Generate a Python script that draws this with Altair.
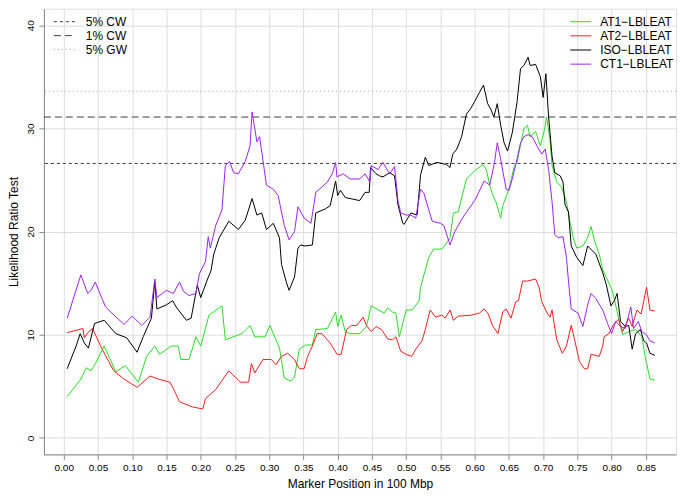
import altair as alt
import pandas as pd

# ---------------- data ----------------
series_names = ["AT1\u2212LBLEAT", "AT2\u2212LBLEAT", "ISO\u2212LBLEAT", "CT1\u2212LBLEAT"]
series_colors = ["#22E022", "#F01E1E", "#000000", "#A020F0"]

at1_x = [0.005, 0.025, 0.033, 0.040, 0.047, 0.059, 0.076, 0.090, 0.109, 0.121, 0.133, 0.140,
         0.157, 0.167, 0.171, 0.183, 0.193, 0.200, 0.212, 0.231, 0.236, 0.260, 0.272, 0.279,
         0.294, 0.301, 0.308, 0.315, 0.322, 0.332, 0.337, 0.344, 0.353, 0.363, 0.368, 0.385,
         0.397, 0.400, 0.405, 0.411, 0.418, 0.432, 0.442, 0.449, 0.459, 0.468, 0.473, 0.480,
         0.485, 0.490, 0.500, 0.509, 0.519, 0.521, 0.533, 0.540, 0.552, 0.557, 0.564, 0.569,
         0.576, 0.588, 0.600, 0.612, 0.617, 0.622, 0.626, 0.631, 0.638, 0.641, 0.650, 0.658,
         0.662, 0.667, 0.672, 0.677, 0.681, 0.689, 0.696, 0.702, 0.705, 0.710, 0.713, 0.720,
         0.727, 0.734, 0.739, 0.744, 0.749, 0.758, 0.765, 0.770, 0.775, 0.782, 0.787, 0.801,
         0.811, 0.816, 0.825, 0.835, 0.844, 0.849, 0.856, 0.863]
at1_y = [4.0, 5.7, 6.8, 6.5, 7.3, 8.9, 6.4, 7.0, 5.4, 7.9, 8.9, 8.1,
         8.9, 8.9, 7.6, 7.6, 9.8, 8.9, 11.9, 12.8, 9.5, 10.1, 10.9, 9.8,
         9.8, 10.9, 9.8, 8.7, 5.8, 5.5, 5.9, 8.6, 9.0, 9.0, 10.5, 10.6,
         12.2, 10.8, 11.9, 10.3, 10.1, 10.1, 10.8, 12.8, 12.4, 12.1, 12.6, 12.2,
         12.1, 9.8, 12.4, 12.4, 13.3, 14.6, 17.5, 18.3, 18.3, 18.7, 19.4, 21.8,
         21.9, 25.1, 25.9, 26.5, 26.0, 24.5, 23.6, 22.9, 21.3, 22.5, 24.1, 26.4,
         26.7, 28.4, 30.0, 30.3, 29.2, 29.7, 28.3, 29.9, 31.1, 28.9, 26.4, 24.8,
         24.3, 22.9, 21.0, 19.4, 18.4, 18.6, 19.4, 20.5, 19.1, 17.8, 16.3, 14.3,
         11.4, 10.0, 10.3, 10.5, 9.8, 7.9, 5.7, 5.6]

at2_x = [0.005, 0.028, 0.030, 0.035, 0.042, 0.056, 0.073, 0.088, 0.107, 0.126, 0.138, 0.155,
         0.160, 0.169, 0.188, 0.203, 0.207, 0.222, 0.241, 0.258, 0.270, 0.274, 0.279, 0.291,
         0.303, 0.310, 0.318, 0.327, 0.337, 0.344, 0.351, 0.356, 0.363, 0.370, 0.377, 0.389,
         0.399, 0.405, 0.413, 0.420, 0.428, 0.437, 0.442, 0.449, 0.456, 0.464, 0.473, 0.480,
         0.485, 0.492, 0.500, 0.508, 0.514, 0.523, 0.528, 0.535, 0.543, 0.552, 0.557, 0.564,
         0.569, 0.576, 0.595, 0.607, 0.614, 0.620, 0.626, 0.634, 0.641, 0.646, 0.653, 0.660,
         0.664, 0.670, 0.677, 0.689, 0.694, 0.698, 0.705, 0.710, 0.713, 0.716, 0.720, 0.728,
         0.734, 0.741, 0.746, 0.753, 0.760, 0.765, 0.770, 0.782, 0.787, 0.789, 0.796, 0.803,
         0.810, 0.816, 0.825, 0.830, 0.837, 0.843, 0.851, 0.856, 0.863]
at2_y = [10.2, 10.6, 9.7, 10.2, 10.6, 8.6, 6.5, 5.7, 4.9, 6.0, 5.7, 5.4,
         4.8, 3.5, 3.0, 2.8, 3.8, 4.7, 6.5, 5.4, 5.4, 7.2, 6.3, 7.6,
         7.6, 7.1, 7.9, 8.2, 7.6, 6.7, 6.7, 7.9, 8.9, 10.1, 10.1, 9.2,
         8.1, 8.1, 10.5, 10.9, 10.9, 11.7, 10.9, 10.3, 10.8, 10.5, 9.6, 9.5,
         9.8, 8.4, 8.1, 7.9, 8.6, 9.4, 10.5, 12.4, 11.7, 11.9, 11.6, 12.4,
         11.4, 11.8, 11.9, 12.1, 12.5, 12.0, 10.9, 10.1, 12.2, 12.5, 11.6, 13.2,
         13.3, 15.2, 15.2, 15.4, 14.6, 13.2, 12.2, 11.7, 12.4, 11.1, 9.5, 8.2,
         8.9, 10.9, 9.5, 7.4, 6.7, 6.7, 8.1, 7.9, 8.9, 9.8, 10.1, 11.0,
         11.5, 10.3, 11.6, 10.8, 12.4, 12.0, 14.6, 12.4, 12.3]

iso_x = [0.005, 0.018, 0.024, 0.030, 0.036, 0.045, 0.059, 0.076, 0.092, 0.107, 0.116, 0.128,
         0.133, 0.136, 0.150, 0.159, 0.164, 0.179, 0.186, 0.195, 0.200, 0.210, 0.215, 0.219,
         0.227, 0.241, 0.255, 0.265, 0.275, 0.282, 0.289, 0.296, 0.306, 0.315, 0.318, 0.325,
         0.329, 0.337, 0.342, 0.346, 0.353, 0.363, 0.368, 0.382, 0.389, 0.397, 0.400, 0.404,
         0.411, 0.418, 0.432, 0.440, 0.446, 0.448, 0.456, 0.461, 0.466, 0.476, 0.483, 0.488,
         0.495, 0.497, 0.507, 0.516, 0.521, 0.528, 0.533, 0.545, 0.559, 0.564, 0.568, 0.574,
         0.581, 0.588, 0.593, 0.600, 0.607, 0.613, 0.619, 0.624, 0.628, 0.633, 0.638, 0.643,
         0.648, 0.655, 0.662, 0.667, 0.672, 0.678, 0.681, 0.689, 0.696, 0.700, 0.704, 0.708,
         0.713, 0.717, 0.725, 0.729, 0.732, 0.737, 0.741, 0.749, 0.758, 0.765, 0.777, 0.787,
         0.792, 0.799, 0.804, 0.808, 0.813, 0.820, 0.825, 0.830, 0.835, 0.842, 0.847, 0.851,
         0.856, 0.863]
iso_y = [6.7, 8.9, 10.1, 9.2, 8.7, 11.1, 11.4, 10.1, 9.7, 8.3, 9.8, 11.6,
         15.2, 12.5, 12.9, 13.3, 12.7, 11.4, 11.6, 14.8, 13.6, 15.4, 16.2, 17.8,
         19.4, 21.0, 20.2, 21.1, 23.2, 21.6, 21.8, 20.2, 20.8, 19.4, 16.8, 15.1,
         14.3, 15.6, 18.4, 18.7, 18.6, 18.7, 21.8, 22.2, 22.5, 24.9, 23.5, 24.0,
         23.3, 23.2, 23.0, 23.8, 23.8, 26.2, 25.6, 25.4, 25.3, 25.7, 25.4, 22.6,
         20.8, 20.7, 21.8, 21.6, 25.5, 27.2, 26.4, 26.7, 26.5, 26.2, 27.5, 28.0,
         29.2, 31.4, 31.8, 32.6, 33.5, 34.2, 32.4, 31.8, 31.1, 32.4, 30.3, 28.6,
         27.8, 29.6, 32.6, 35.8, 36.1, 36.9, 36.1, 36.2, 35.0, 33.0, 35.3, 31.1,
         27.3, 25.7, 25.4, 24.8, 22.6, 21.9, 18.6, 17.5, 16.7, 18.6, 17.8, 16.0,
         14.9, 12.8, 13.3, 14.0, 11.3, 10.8, 10.9, 8.6, 10.1, 10.5, 9.4, 9.2,
         8.2, 8.0]

ct1_x = [0.005, 0.025, 0.035, 0.040, 0.046, 0.061, 0.075, 0.088, 0.100, 0.114, 0.126, 0.133,
         0.136, 0.150, 0.160, 0.169, 0.175, 0.183, 0.193, 0.198, 0.207, 0.211, 0.214, 0.222,
         0.231, 0.236, 0.242, 0.248, 0.255, 0.265, 0.272, 0.275, 0.282, 0.286, 0.296, 0.306,
         0.313, 0.322, 0.329, 0.337, 0.342, 0.351, 0.361, 0.368, 0.385, 0.392, 0.397, 0.399,
         0.408, 0.418, 0.432, 0.440, 0.447, 0.449, 0.459, 0.466, 0.476, 0.483, 0.485, 0.488,
         0.492, 0.500, 0.507, 0.514, 0.521, 0.526, 0.533, 0.538, 0.550, 0.555, 0.564, 0.571,
         0.583, 0.600, 0.614, 0.622, 0.629, 0.633, 0.638, 0.646, 0.650, 0.655, 0.660, 0.667,
         0.672, 0.678, 0.684, 0.691, 0.698, 0.703, 0.708, 0.713, 0.717, 0.722, 0.729, 0.734,
         0.737, 0.741, 0.751, 0.758, 0.765, 0.770, 0.777, 0.787, 0.794, 0.800, 0.806, 0.813,
         0.820, 0.828, 0.832, 0.839, 0.844, 0.851, 0.856, 0.863]
ct1_y = [11.6, 15.8, 14.0, 14.3, 15.1, 12.7, 11.8, 11.0, 11.8, 10.9, 11.7, 15.4,
         13.6, 14.3, 14.0, 15.1, 14.2, 13.8, 14.0, 15.9, 17.1, 19.5, 18.4, 20.6,
         22.1, 26.4, 26.8, 25.7, 25.6, 26.8, 28.3, 31.6, 28.7, 29.2, 24.5, 24.1,
         23.5, 20.6, 19.2, 20.0, 22.4, 21.3, 20.8, 23.8, 24.8, 25.6, 26.7, 25.3,
         25.6, 25.1, 25.1, 25.6, 24.8, 26.4, 26.0, 26.7, 25.6, 26.3, 25.0, 23.0,
         21.8, 21.6, 21.6, 21.3, 24.1, 23.7, 22.1, 21.0, 20.8, 20.6, 18.7, 20.0,
         21.4, 23.0, 24.9, 24.5, 26.7, 28.6, 27.0, 24.1, 24.0, 25.1, 26.5, 28.6,
         29.2, 29.4, 29.2, 28.3, 27.5, 28.0, 26.0, 22.9, 19.7, 19.4, 19.5, 17.5,
         15.2, 12.5, 12.1, 10.8, 12.9, 14.0, 13.5, 12.4, 11.1, 10.1, 11.3, 10.8,
         10.6, 12.7, 10.6, 11.3, 10.3, 10.0, 9.4, 9.2]

thr_names = ["5% CW", "1% CW", "5% GW"]
thr_values = [26.6, 31.1, 33.6]
thr_colors = ["#3a3a3a", "#3a3a3a", "#a0a0a0"]
thr_dashes = [[3, 3], [7, 4], [1, 3]]

x_ticks = [0.00, 0.05, 0.10, 0.15, 0.20, 0.25, 0.30, 0.35, 0.40, 0.45,
           0.50, 0.55, 0.60, 0.65, 0.70, 0.75, 0.80, 0.85]
y_ticks = [0, 10, 20, 30, 40]

# ---------------- chart ----------------
FONT = "Liberation Sans"
W, H = 634, 447

x_scale = alt.Scale(domain=[-0.029, 0.894], nice=False, zero=False)
y_scale = alt.Scale(domain=[-1.6, 41.6], nice=False, zero=False)

x_axis = alt.Axis(values=x_ticks, format=".2f", title="Marker Position in 100 Mbp",
                  tickSize=5, labelPadding=3, titlePadding=6, labelFlush=False,
                  titleFontWeight=400, titleFont=FONT, titleFontSize=12)
y_axis = alt.Axis(values=y_ticks, format="d", title="Likelihood Ratio Test",
                  tickSize=5, labelAngle=270, labelAlign="center", labelBaseline="bottom",
                  labelPadding=3, titlePadding=5,
                  titleFontWeight=400, titleFont=FONT, titleFontSize=12)

layers = []

thr_df = pd.DataFrame({"threshold": thr_names, "lrt": thr_values})
layers.append(alt.Chart(thr_df).mark_rule(strokeWidth=1).encode(
    y=alt.Y("lrt:Q", scale=y_scale, axis=y_axis),
    color=alt.Color("threshold:N", scale=alt.Scale(domain=thr_names, range=thr_colors), legend=None),
    strokeDash=alt.StrokeDash("threshold:N", scale=alt.Scale(domain=thr_names, range=thr_dashes), legend=None),
))

series = [(series_names[0], at1_x, at1_y, series_colors[0]),
          (series_names[1], at2_x, at2_y, series_colors[1]),
          (series_names[2], iso_x, iso_y, series_colors[2]),
          (series_names[3], ct1_x, ct1_y, series_colors[3])]

for name, xs, ys, col in series:
    d = pd.DataFrame({"pos": xs, "lrt": ys, "series": name})
    layers.append(
        alt.Chart(d).mark_line(strokeWidth=1, color=col).encode(
            x=alt.X("pos:Q", scale=x_scale, axis=x_axis),
            y=alt.Y("lrt:Q", scale=y_scale, axis=y_axis),
        )
    )

# ---------------- manual legends (layout only) ----------------
one = pd.DataFrame({"k": [0]})
# top-left legend: threshold lines
for i, name in enumerate(thr_names):
    yy = 13 + 14 * i
    layers.append(alt.Chart(one).mark_rule(strokeWidth=1, color=thr_colors[i], strokeDash=thr_dashes[i]).encode(
        x=alt.value(10), x2=alt.value(32), y=alt.value(yy)))
    layers.append(alt.Chart(one).mark_text(align="left", baseline="middle", font=FONT, fontSize=12, color="#000").encode(
        x=alt.value(42), y=alt.value(yy), text=alt.value(name)))
# top-right legend: series
for i, name in enumerate(series_names):
    yy = 13 + 14.2 * i
    layers.append(alt.Chart(one).mark_rule(strokeWidth=1, color=series_colors[i]).encode(
        x=alt.value(W - 106), x2=alt.value(W - 85), y=alt.value(yy)))
    layers.append(alt.Chart(one).mark_text(align="left", baseline="middle", font=FONT, fontSize=12, color="#000").encode(
        x=alt.value(W - 76), y=alt.value(yy), text=alt.value(name)))

chart = alt.layer(*layers).properties(
    width=W, height=H, padding={"left": 0, "top": 0, "right": 0, "bottom": 0}
).configure_view(
    stroke="#333333", strokeWidth=1
).configure_axis(
    domain=False, grid=False, tickColor="#333333", tickWidth=1,
    labelFont=FONT, labelFontSize=12, labelColor="#000000",
    titleFont=FONT, titleFontSize=12, titleFontWeight="normal", titleColor="#000000"
).configure(background="white")

chart.save("out.html", embed_options={"renderer": "svg", "actions": False})
